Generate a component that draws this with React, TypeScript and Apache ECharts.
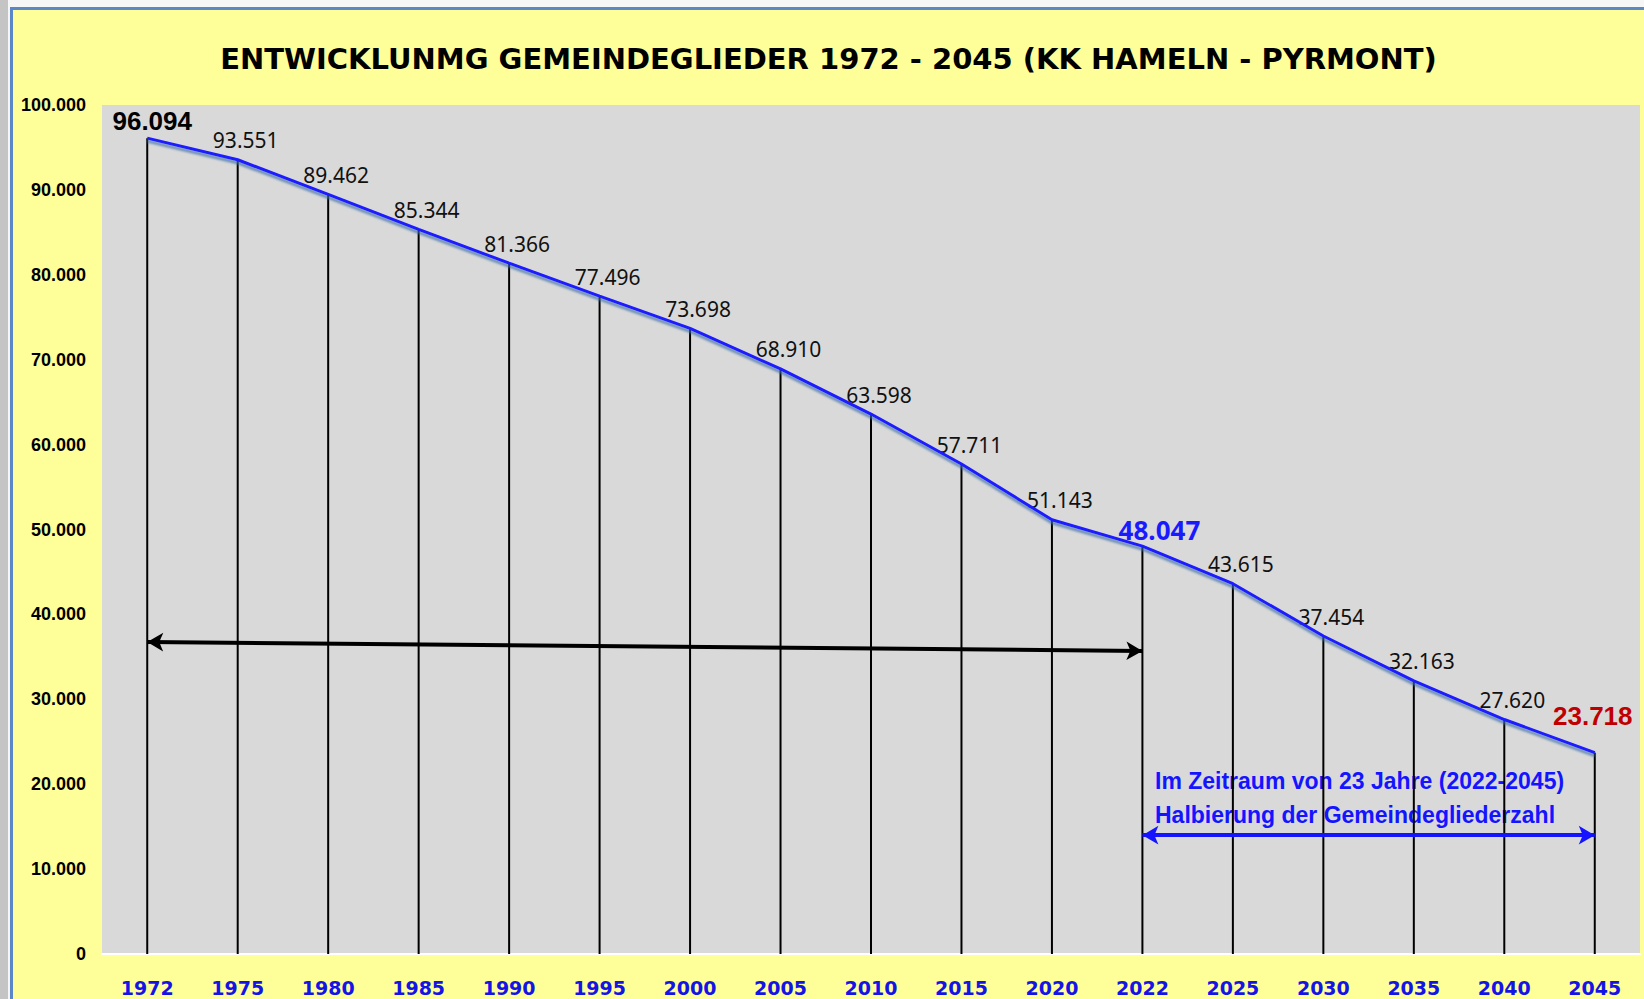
import React, { useEffect, useRef } from "react";
import * as echarts from "echarts";

const titleText = "ENTWICKLUNMG GEMEINDEGLIEDER 1972 - 2045 (KK HAMELN - PYRMONT)";
const years = ["1972", "1975", "1980", "1985", "1990", "1995", "2000", "2005", "2010", "2015", "2020", "2022", "2025", "2030", "2035", "2040", "2045"];
const members = [96094, 93551, 89462, 85344, 81366, 77496, 73698, 68910, 63598, 57711, 51143, 48047, 43615, 37454, 32163, 27620, 23718];
const yMin = 0;
const yMax = 100000;
const yStep = 10000;
// annotation arrows: [category, value]
const periodArrowStart: [string, number] = ["1972", 36750];
const periodArrowEnd: [string, number] = ["2022", 35700];
const halvingArrowStart: [string, number] = ["2022", 14000];
const halvingArrowEnd: [string, number] = ["2045", 14000];
const noteLines = ["Im Zeitraum von 23 Jahre (2022-2045)", "Halbierung der Gemeindegliederzahl"];

const fmt = (v: number) => String(v).replace(/\B(?=(\d{3})+(?!\d))/g, ".");

const firstIdx = 0;
const currentIdx = years.indexOf("2022");
const lastIdx = years.length - 1;

export default function App() {
  const ref = useRef<HTMLDivElement>(null);
  useEffect(() => {
    if (!ref.current) return;
    const chart = echarts.init(ref.current, undefined, { renderer: "svg" });

    const barData = members.map((v, i) => {
      if (i === firstIdx) {
        return {
          value: v,
          label: {
            fontFamily: "'Liberation Sans', Arial, sans-serif",
            fontWeight: "bold",
            fontSize: 26,
            color: "#000",
            offset: [5, 1],
          },
        };
      }
      if (i === currentIdx) {
        return {
          value: v,
          label: {
            fontFamily: "'Noto Sans', sans-serif",
            fontWeight: "bold",
            fontSize: 26,
            color: "#1a1aff",
            offset: [17, 2],
          },
        };
      }
      if (i === lastIdx) {
        return {
          value: v,
          label: {
            fontFamily: "'Liberation Sans', Arial, sans-serif",
            fontWeight: "bold",
            fontSize: 26,
            color: "#c00000",
            offset: [-2, -19],
          },
        };
      }
      return v;
    });

    chart.setOption({
      animation: false,
      backgroundColor: "#ffff99",
      title: {
        text: titleText,
        left: "center",
        top: 29,
        textStyle: {
          fontFamily: "'DejaVu Sans', sans-serif",
          fontWeight: "bold",
          fontSize: 29,
          color: "#000",
        },
      },
      grid: {
        left: 89,
        top: 95,
        right: 4,
        bottom: 45,
        show: true,
        backgroundColor: "#d9d9d9",
        borderWidth: 0,
      },
      xAxis: {
        type: "category",
        data: years,
        boundaryGap: true,
        axisLine: { show: true, lineStyle: { color: "#ffffff", width: 2 } },
        axisTick: { show: false },
        axisLabel: {
          margin: 24,
          color: "#1414e6",
          fontFamily: "'DejaVu Sans', sans-serif",
          fontWeight: "bold",
          fontSize: 19,
        },
        splitLine: { show: false },
      },
      yAxis: {
        type: "value",
        min: yMin,
        max: yMax,
        interval: yStep,
        axisLine: { show: false },
        axisTick: { show: false },
        splitLine: { show: false },
        axisLabel: {
          margin: 16,
          color: "#000",
          fontFamily: "'Liberation Sans Narrow', 'Liberation Sans', Arial, sans-serif",
          fontWeight: "bold",
          fontSize: 18,
          formatter: (v: number) => fmt(v),
        },
      },
      series: [
        {
          type: "bar",
          data: barData,
          barWidth: 2,
          itemStyle: { color: "#000" },
          z: 2,
          silent: true,
          label: {
            show: true,
            position: "top",
            distance: 5,
            offset: [8, -4],
            color: "#111",
            fontFamily: "'Noto Sans', sans-serif",
            fontSize: 21,
            formatter: (p: any) => fmt(p.value),
          },
        },
        {
          type: "line",
          data: members,
          symbol: "none",
          z: 3,
          silent: true,
          lineStyle: {
            color: "#1c1cff",
            width: 3,
            shadowColor: "rgba(60,110,170,0.75)",
            shadowBlur: 2,
            shadowOffsetY: 3,
          },
          markLine: {
            silent: true,
            symbol: ["arrow", "arrow"],
            symbolSize: [14, 16],
            label: { show: false },
            emphasis: { disabled: true },
            data: [
              [
                { coord: periodArrowStart, lineStyle: { color: "#000", width: 4, type: "solid" } },
                { coord: periodArrowEnd },
              ],
              [
                { coord: halvingArrowStart, lineStyle: { color: "#1414ff", width: 4, type: "solid" } },
                { coord: halvingArrowEnd },
              ],
            ],
          },
        },
      ],
      graphic: noteLines.map((t, i) => ({
        type: "text",
        left: 1142,
        top: 759 + i * 34,
        silent: true,
        style: {
          text: t,
          fill: "#1414ff",
          font: "bold 23px 'Liberation Sans', Arial, sans-serif",
        },
      })),
    });

    return () => chart.dispose();
  }, []);

  return (
    <div style={{ position: "fixed", left: 0, top: 0, width: 1644, height: 999, background: "#f6f6f6", overflow: "hidden" }}>
      <div style={{ position: "absolute", left: 0, top: 0, width: 8, height: 999, background: "#c4c4c4" }} />
      <div
        style={{
          position: "absolute",
          left: 10,
          top: 7,
          width: 1634,
          height: 992,
          borderLeft: "3px solid #5b86c8",
          borderTop: "3px solid #5b86c8",
          boxSizing: "border-box",
        }}
      >
        <div ref={ref} style={{ width: 1631, height: 989 }} />
      </div>
    </div>
  );
}
